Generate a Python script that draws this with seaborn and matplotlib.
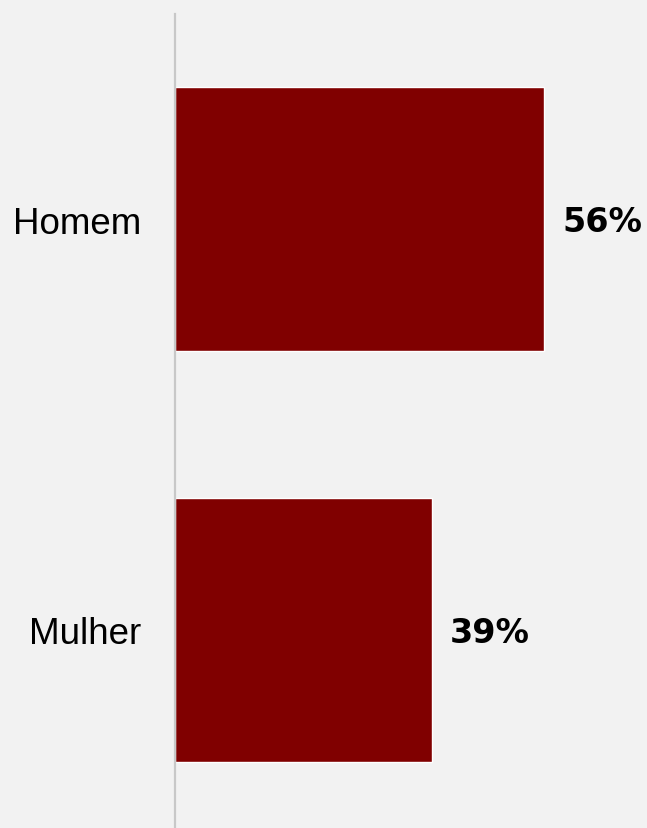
import matplotlib
matplotlib.use("Agg")
import matplotlib.pyplot as plt
import seaborn as sns
import pandas as pd

categories = ["Homem", "Mulher"]
values = [56, 39]
labels = ["56%", "39%"]

df = pd.DataFrame({"cat": categories, "val": values})

sns.set_theme(style="white")
plt.rcParams['font.family'] = ['Liberation Sans', 'DejaVu Sans']

fig = plt.figure(figsize=(6.47, 8.29), dpi=100)
fig.patch.set_facecolor("#f2f2f2")
ax = fig.add_axes([175/647, 0, 472/647, 814/829])
ax.set_facecolor("#f2f2f2")

sns.barplot(data=df, x="val", y="cat", orient="h", color="#800000",
            saturation=1, width=0.642, ax=ax)

ax.set_xlim(0, 472/6.59)
ax.set_ylim(1.482, -0.499)

for i, (v, lab) in enumerate(zip(values, labels)):
    ax.annotate(lab, xy=(v, i), xytext=(13, -1.5), textcoords="offset points",
                va="center", ha="left", fontsize=24, fontweight="bold",
                family=["DejaVu Sans"], color="#000000")

for s in ["top", "right", "bottom"]:
    ax.spines[s].set_visible(False)
ax.spines["left"].set_color("#c8c8c8")
ax.spines["left"].set_linewidth(1.6)
ax.set_xticks([])
ax.set_xlabel("")
ax.set_ylabel("")
ax.tick_params(axis="y", length=0, pad=24, labelsize=26.5, labelcolor="#000000")
for t in ax.get_yticklabels():
    t.set_fontfamily(["Liberation Sans", "DejaVu Sans"])

fig.savefig("out.png", dpi=100, facecolor=fig.get_facecolor())
